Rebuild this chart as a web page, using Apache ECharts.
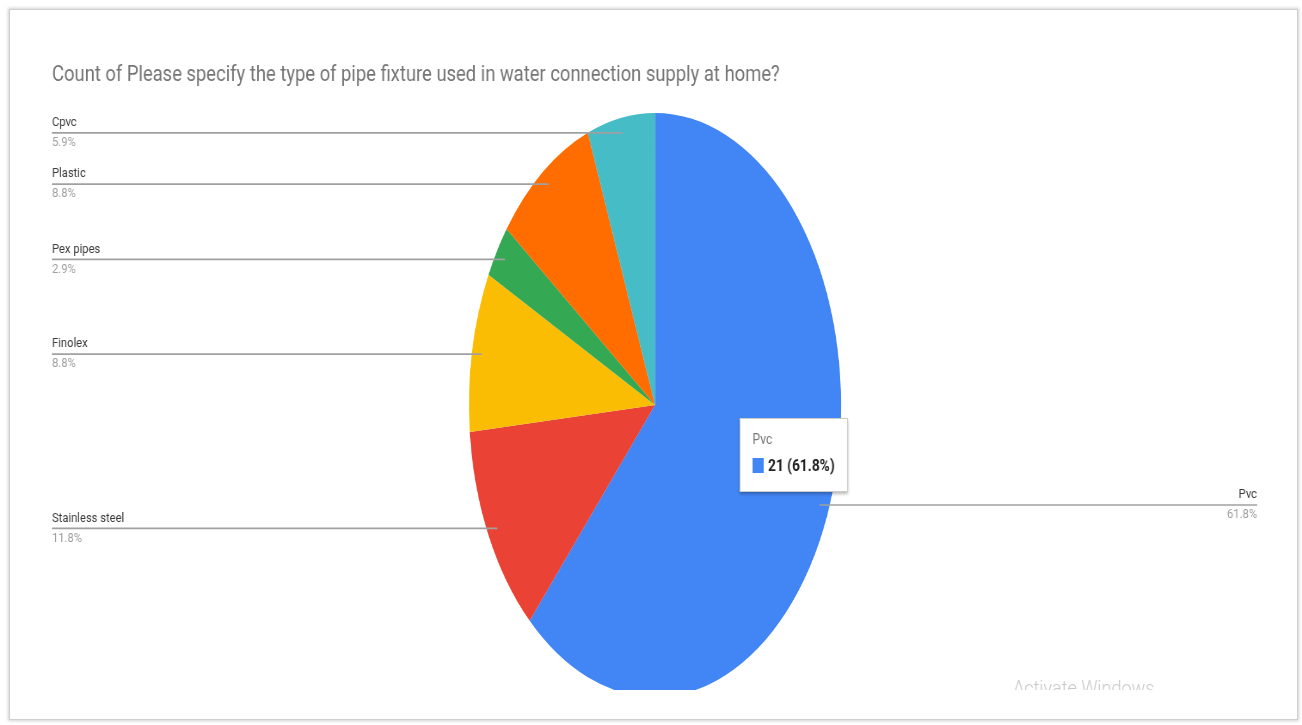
<!DOCTYPE html>
<html>
<head>
<meta charset="utf-8">
<script src="https://cdn.jsdelivr.net/npm/echarts@6/dist/echarts.min.js"></script>
<style>
  html, body { margin: 0; padding: 0; background: #ffffff; width: 1302px; height: 725px; overflow: hidden; }
  #frame {
    position: absolute; left: 9px; top: 9px; width: 1287px; height: 709px;
    border: 1px solid #cfcfcf; background: #ffffff;
    box-shadow: 0 0 3px 1px rgba(0, 0, 0, 0.18);
  }
  .layer { position: absolute; left: 0; top: 0; transform-origin: 0 0; }
</style>
</head>
<body>
<div id="frame"></div>
<div id="pieLayer" class="layer"></div>
<div id="textLayer" class="layer"></div>
<script>
// ---- data ----
const chartTitle = 'Count of Please specify the type of pipe fixture used in water connection supply at home?';
const categories = ['Pvc', 'Stainless steel', 'Finolex', 'Pex pipes', 'Plastic', 'Cpvc'];
const counts = [21, 4, 3, 1, 3, 2];

// ---- styles ----
const sliceColors = ['#4285f4', '#ea4335', '#fbbc04', '#34a853', '#ff6d01', '#46bdc6'];

// ---- layout (screen px) ----
const PAGE_W = 1302, PLOT_H = 690;
const PIE_SX = 0.637;   // horizontal squeeze of the pie layer
const TEXT_SX = 0.86;   // horizontal squeeze of the text layer
const CX = 655, CY = 405, R = 292;
const LEADER_R = 0.948; // leader lines start just inside the rim
const EDGE_L = 52, EDGE_R = 45;
const TIP_X = 740, TIP_Y = 418;
const FONT = 'Roboto';

const pieData = categories.map((name, i) => ({ name: name, value: counts[i] }));

function setupLayer(id, sx) {
  const el = document.getElementById(id);
  el.style.width = (PAGE_W / sx) + 'px';
  el.style.height = PLOT_H + 'px';
  el.style.transform = 'scaleX(' + sx + ')';
  return echarts.init(el, null, { renderer: 'canvas' });
}

// ---------- pie layer: slices and leader lines ----------
const pieChart = setupLayer('pieLayer', PIE_SX);
pieChart.setOption({
  animation: false,
  color: sliceColors,
  series: [
    {
      type: 'pie',
      silent: true,
      z: 2,
      left: 0, right: 0, top: 0, bottom: 0,
      center: [CX / PIE_SX, CY],
      radius: R,
      startAngle: 90,
      clockwise: true,
      label: { show: false },
      labelLine: { show: false },
      emphasis: { disabled: true },
      itemStyle: { borderWidth: 0 },
      data: pieData
    },
    {
      type: 'pie',
      silent: true,
      z: 5,
      left: EDGE_L / PIE_SX, right: EDGE_R / PIE_SX, top: 0, bottom: 0,
      center: [(CX - EDGE_L) / PIE_SX, CY],
      radius: R * LEADER_R,
      startAngle: 90,
      clockwise: true,
      percentPrecision: 1,
      itemStyle: { color: 'rgba(0,0,0,0)' },
      emphasis: { disabled: true },
      label: {
        show: true,
        position: 'outside',
        alignTo: 'edge',
        edgeDistance: 0,
        distanceToLabelLine: 0,
        color: 'rgba(0,0,0,0)',
        fontFamily: FONT,
        fontSize: 13,
        lineHeight: 20,
        formatter: '{b}\n{d}%'
      },
      labelLine: {
        show: true,
        length: 0,
        length2: 10,
        lineStyle: { color: '#a0a0a0', width: 1.7, opacity: 1 }
      },
      // run each leader under its label, out to the label's outer edge
      labelLayout: function (params) {
        const pts = params.labelLinePoints;
        if (!pts) return {};
        const rect = params.labelRect;
        const onLeft = pts[2][0] < pts[0][0];
        const endX = onLeft ? rect.x : rect.x + rect.width;
        return { labelLinePoints: [pts[0], pts[1], [endX, pts[2][1]]] };
      },
      data: pieData
    }
  ]
});

// ---------- text layer: title, slice labels, tooltip ----------
const textChart = setupLayer('textLayer', TEXT_SX);
textChart.setOption({
  animation: false,
  color: sliceColors,
  title: {
    text: chartTitle,
    left: EDGE_L / TEXT_SX,
    top: 65,
    padding: 0,
    textStyle: { fontFamily: FONT, fontSize: 21.4, fontWeight: 'normal', color: '#757575' }
  },
  tooltip: {
    trigger: 'item',
    triggerOn: 'none',
    alwaysShowContent: true,
    transitionDuration: 0,
    position: [TIP_X / TEXT_SX, TIP_Y],
    backgroundColor: '#ffffff',
    borderColor: '#cccccc',
    borderWidth: 1,
    padding: [9, 14, 9, 14],
    extraCssText: 'box-shadow: 0 2px 3px rgba(0,0,0,0.28); border-radius: 0;',
    textStyle: { fontFamily: FONT },
    formatter: function (p) {
      return '<div style="font-size:14px;color:#757575;line-height:22px">' + p.name + '</div>' +
        '<div style="line-height:31px;white-space:nowrap">' +
        '<span style="display:inline-block;width:13px;height:15px;vertical-align:-2px;margin-right:5px;background:' +
        sliceColors[p.dataIndex] + '"></span>' +
        '<b style="font-size:16px;color:#222222">' + p.value + ' (' + p.percent + '%)</b></div>';
    }
  },
  graphic: [{
    type: 'text',
    left: 1013 / TEXT_SX,
    top: 679,
    silent: true,
    style: { text: 'Activate Windows', fontFamily: FONT, fontSize: 21, fontWeight: 300, fill: '#c8c8c8' }
  }],
  series: [{
    type: 'pie',
    left: EDGE_L / TEXT_SX, right: EDGE_R / TEXT_SX, top: 0, bottom: 0,
    center: [(CX - EDGE_L) / TEXT_SX, CY],
    radius: R * LEADER_R,
    startAngle: 90,
    clockwise: true,
    percentPrecision: 1,
    itemStyle: { color: 'rgba(0,0,0,0)' },
    emphasis: { disabled: true },
    label: {
      show: true,
      position: 'outside',
      alignTo: 'edge',
      edgeDistance: 0,
      distanceToLabelLine: 0,
      formatter: '{n|{b}}\n{p|{d}%}',
      rich: {
        n: { fontFamily: FONT, fontSize: 13, lineHeight: 20, color: '#3a3a3a' },
        p: { fontFamily: FONT, fontSize: 13, lineHeight: 20, color: '#9e9e9e' }
      }
    },
    labelLine: { show: false, length: 0, length2: 10 },
    data: pieData
  }]
});

textChart.dispatchAction({ type: 'showTip', seriesIndex: 0, dataIndex: 0 });
</script>
</body>
</html>
